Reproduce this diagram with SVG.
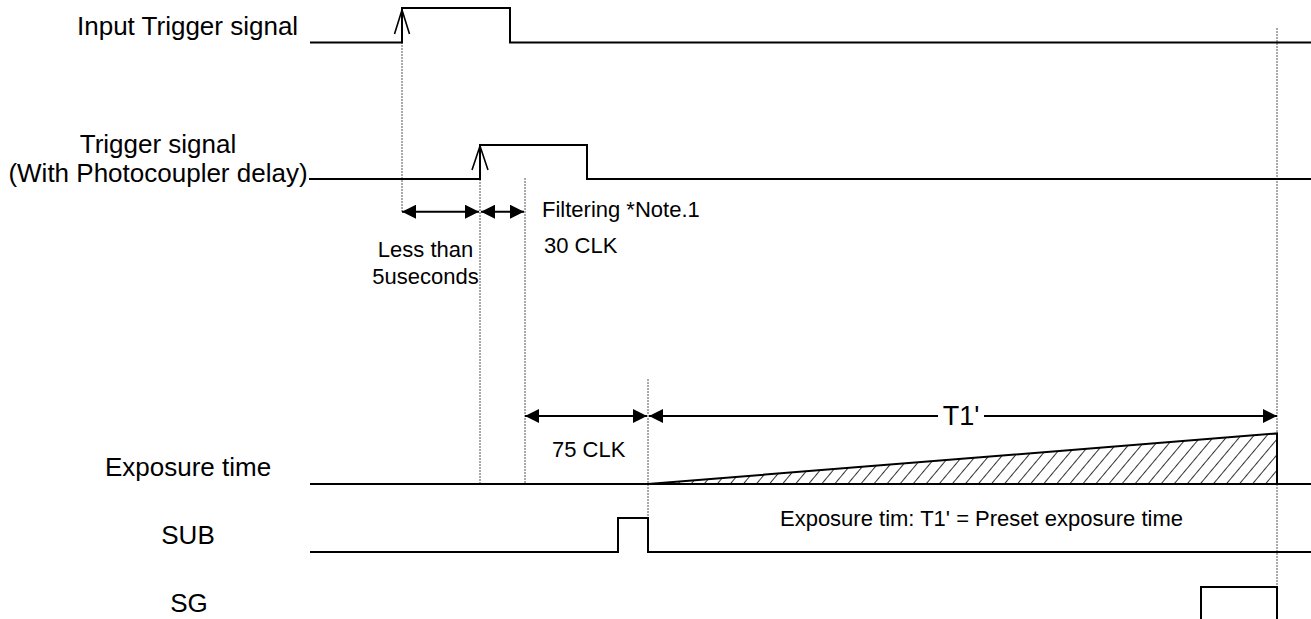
<svg xmlns="http://www.w3.org/2000/svg" width="1311" height="619" viewBox="0 0 1311 619">
<style>
.sig{fill:none;stroke:#000;stroke-width:2;stroke-linejoin:miter}
.dot{fill:none;stroke:#555;stroke-width:1;stroke-dasharray:2 1}
.dim{fill:none;stroke:#000;stroke-width:2}
.chev{fill:none;stroke:#000;stroke-width:1.6}
.lbl{font-family:"Liberation Sans",Arial,sans-serif;font-size:26px;fill:#000}
.sm{font-family:"Liberation Sans",Arial,sans-serif;font-size:22px;fill:#000}
</style>
<defs>
<marker id="ah" viewBox="0 0 14 14" refX="14" refY="7" markerWidth="14" markerHeight="14" markerUnits="userSpaceOnUse" orient="auto-start-reverse">
<path d="M0,0 L14,7 L0,14 z" fill="#000"/>
</marker>
<pattern id="hatch" width="10" height="10" patternUnits="userSpaceOnUse" patternTransform="rotate(40)">
<line x1="0" y1="-1" x2="0" y2="11" stroke="#000" stroke-width="1.6"/>
</pattern>
</defs>
<rect width="1311" height="619" fill="#fff"/>

<g id="guides">
<line class="dot" x1="402" y1="42" x2="402" y2="213"/>
<line class="dot" x1="480" y1="179" x2="480" y2="484"/>
<line class="dot" x1="525" y1="178" x2="525" y2="484"/>
<line class="dot" x1="648" y1="379" x2="648" y2="518"/>
<line class="dot" x1="1277" y1="28" x2="1277" y2="619"/>
</g>

<g id="input-trigger">
<text class="lbl" x="77" y="35">Input Trigger signal</text>
<polyline class="sig" points="310,42.5 402,42.5 402,8 510,8 510,42.5 1311,42.5"/>
<polyline class="chev" points="394.5,34 402,10 409.5,34"/>
</g>

<g id="trigger">
<text class="lbl" x="158" y="153" text-anchor="middle">Trigger signal</text>
<text class="lbl" x="158" y="182" text-anchor="middle">(With Photocoupler delay)</text>
<polyline class="sig" points="309,179 480,179 480,145 587,145 587,179 1311,179"/>
<polyline class="chev" points="472,170 480,146 488,170"/>
</g>

<g id="exposure">
<text class="lbl" x="188" y="476" text-anchor="middle">Exposure time</text>
<polygon points="648,484 1277,433.4 1277,484" fill="url(#hatch)"/>
<polyline class="sig" points="648,484 1277,433.4 1277,484"/>
<line class="sig" x1="310" y1="484" x2="1311" y2="484"/>
</g>

<g id="sub">
<text class="lbl" x="188" y="543.5" text-anchor="middle">SUB</text>
<polyline class="sig" points="310,552 618,552 618,518 648,518 648,552 1311,552"/>
<text class="sm" x="1183" y="526" text-anchor="end">Exposure tim: T1' = Preset exposure time</text>
</g>

<g id="sg">
<text class="lbl" x="189" y="611.5" text-anchor="middle">SG</text>
<polyline class="sig" points="1201,625 1201,587 1277,587 1277,625"/>
</g>

<g id="connectors">
<line class="dim" x1="402" y1="211.7" x2="479" y2="211.7" marker-start="url(#ah)" marker-end="url(#ah)"/>
<line class="dim" x1="481" y1="211.7" x2="524" y2="211.7" marker-start="url(#ah)" marker-end="url(#ah)"/>
<line class="dim" x1="525" y1="416" x2="647" y2="416" marker-start="url(#ah)" marker-end="url(#ah)"/>
<line class="dim" x1="649" y1="416" x2="938" y2="416" marker-start="url(#ah)"/>
<line class="dim" x1="984" y1="416" x2="1277" y2="416" marker-end="url(#ah)"/>
</g>

<g id="annotations">
<text class="sm" x="425.5" y="257" text-anchor="middle">Less than</text>
<text class="sm" x="425.5" y="284" text-anchor="middle">5useconds</text>
<text class="sm" x="542" y="217">Filtering *Note.1</text>
<text class="sm" x="544" y="253">30 CLK</text>
<text class="sm" x="552" y="457">75 CLK</text>
<text class="lbl" x="961" y="425" text-anchor="middle" style="font-size:27px">T1'</text>
</g>
</svg>
